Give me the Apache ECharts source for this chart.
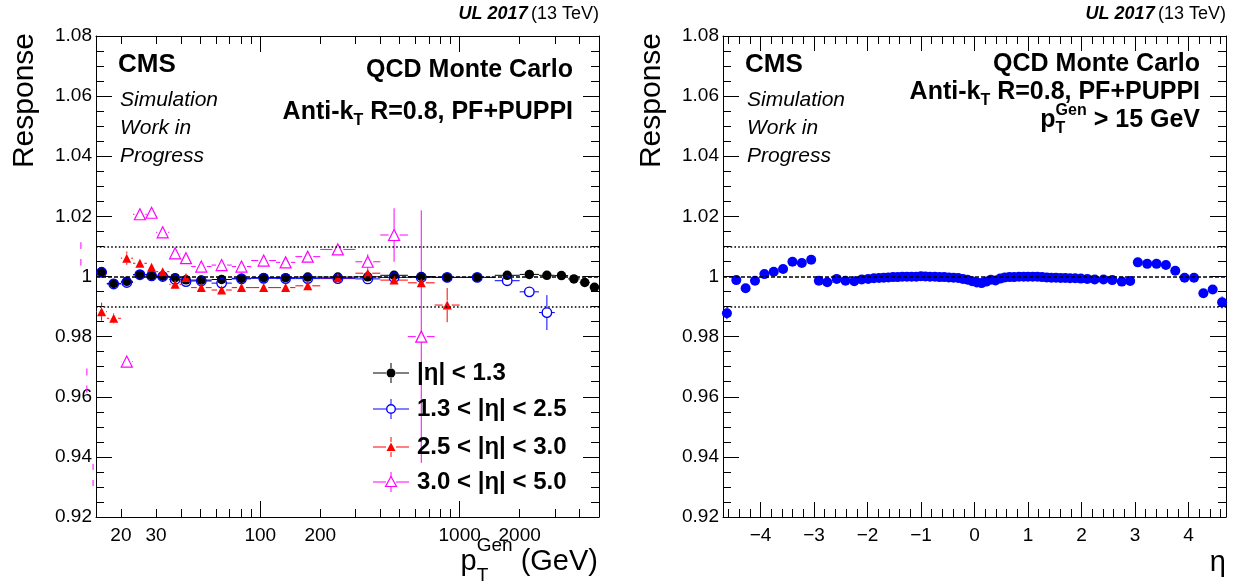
<!DOCTYPE html>
<html><head><meta charset="utf-8">
<script src="https://cdn.jsdelivr.net/npm/echarts@6/dist/echarts.min.js"></script>
<style>html,body{margin:0;padding:0;background:#fff}#c{width:1233px;height:588px}</style>
</head><body><div id="c"></div>
<script>
// ---------------- DATA ----------------
// Left panel: response vs pT(gen), pT bins
const ptEdges   = [15, 17, 20, 23, 27, 30, 35, 40, 45, 57, 72, 90, 120, 150, 200, 300, 400, 550, 750, 1000, 1500, 2000, 2500, 3000, 3500, 4000, 4500, 5000];
const ptCenters = [16, 18.4, 21.4, 24.9, 28.5, 32.4, 37.4, 42.4, 50.6, 64, 80.5, 104, 134, 173, 245, 346, 469, 642, 866, 1225, 1732, 2236, 2739, 3240, 3742, 4243, 4743];
const ptTickLabels = [20, 30, 100, 200, 1000, 2000];
const ptMajorTicks = [100, 1000];
const ptMinorTicks = [20, 30, 40, 50, 60, 70, 80, 90, 200, 300, 400, 500, 600, 700, 800, 900, 2000, 3000, 4000];

// |eta| < 1.3 (black), starts at bin 0
const respEtaA = [1.0015, 0.9977, 0.9984, 1.0006, 1.0003, 1.0001, 0.9996, 0.9989, 0.9988, 0.9990, 0.9994, 0.9996, 0.9996, 0.9998, 0.9998, 0.9999, 1.0004, 1.0000, 0.9997, 0.9997, 1.0004, 1.0007, 1.0004, 1.0003, 0.9992, 0.9980, 0.9964];
const errEtaA  = [0.0003, 0.0003, 0.0002, 0.0002, 0.0002, 0.0002, 0.0002, 0.0002, 0.0002, 0.0002, 0.0002, 0.0002, 0.0002, 0.0002, 0.0002, 0.0002, 0.0002, 0.0002, 0.0002, 0.0002, 0.0002, 0.0002, 0.0003, 0.0003, 0.0003, 0.0004, 0.0005];
// 1.3 < |eta| < 2.5 (blue), starts at bin 0
const respEtaB = [1.0014, 0.9975, 0.9980, 1.0006, 1.0002, 1.0000, 0.9990, 0.9983, 0.9985, 0.9978, 0.9992, 0.9994, 0.9993, 0.9993, 0.9993, 0.9992, 0.9997, 0.9997, 0.9997, 0.9997, 0.9986, 0.9949, 0.9880];
const errEtaB  = [0.0004, 0.0004, 0.0003, 0.0003, 0.0003, 0.0003, 0.0003, 0.0003, 0.0002, 0.0002, 0.0002, 0.0002, 0.0002, 0.0002, 0.0002, 0.0002, 0.0002, 0.0003, 0.0003, 0.0004, 0.0006, 0.0012, 0.0058];
// 2.5 < |eta| < 3.0 (red), starts at bin 0
const respEtaC = [0.9883, 0.9861, 1.0061, 1.0044, 1.0031, 1.0016, 0.9974, 0.9997, 0.9963, 0.9955, 0.9963, 0.9963, 0.9963, 0.9969, 0.9996, 1.0011, 0.9988, 0.9979, 0.9905];
const errEtaC  = [0.0030, 0.0017, 0.0022, 0.0012, 0.0010, 0.0008, 0.0008, 0.0006, 0.0005, 0.0005, 0.0005, 0.0005, 0.0005, 0.0005, 0.0006, 0.0010, 0.0012, 0.0015, 0.0057];
// 3.0 < |eta| < 5.0 (magenta), starts at bin 2
const firstBinEtaD = 2;
const respEtaD = [0.9717, 1.0207, 1.0212, 1.0147, 1.0077, 1.0061, 1.0033, 1.0038, 1.0033, 1.0053, 1.0047, 1.0066, 1.0090, 1.0049, 1.0138, 0.9800];
const errEtaD  = [0.0005, 0.0005, 0.0005, 0.0005, 0.0005, 0.0005, 0.0005, 0.0005, 0.0005, 0.0005, 0.0005, 0.0005, 0.0008, 0.0025, 0.0089, 0.0420];
// magenta points below the axis range (only their error bars show, left of the frame)
const lowPtEtaD   = [12.6, 13.5, 14.5];
const lowRespEtaD = [1.0075, 0.9654, 0.9340];
const lowErrEtaD  = [0.0039, 0.0040, 0.0037];

// Right panel: response vs eta
const etaEdges = [-4.716,-4.538,-4.363,-4.191,-4.013,-3.839,-3.664,-3.489,-3.314,-3.139,-2.964,-2.853,-2.65,-2.5,-2.322,-2.172,-2.043,-1.93,-1.83,-1.74,-1.653,-1.566,-1.479,-1.392,-1.305,-1.218,-1.131,-1.044,-0.957,-0.879,-0.783,-0.696,-0.609,-0.522,-0.435,-0.348,-0.261,-0.174,-0.087,0,0.087,0.174,0.261,0.348,0.435,0.522,0.609,0.696,0.783,0.879,0.957,1.044,1.131,1.218,1.305,1.392,1.479,1.566,1.653,1.74,1.83,1.93,2.043,2.172,2.322,2.5,2.65,2.853,2.964,3.139,3.314,3.489,3.664,3.839,4.013,4.191,4.363,4.538,4.716];
const etaCenters = [-4.627,-4.451,-4.277,-4.102,-3.926,-3.752,-3.577,-3.402,-3.227,-3.052,-2.909,-2.752,-2.575,-2.411,-2.247,-2.108,-1.987,-1.880,-1.785,-1.697,-1.610,-1.523,-1.436,-1.349,-1.262,-1.175,-1.088,-1.001,-0.918,-0.831,-0.740,-0.653,-0.566,-0.479,-0.392,-0.305,-0.218,-0.131,-0.044,
                    0.044,0.131,0.218,0.305,0.392,0.479,0.566,0.653,0.740,0.831,0.918,1.001,1.088,1.175,1.262,1.349,1.436,1.523,1.610,1.697,1.785,1.880,1.987,2.108,2.247,2.411,2.575,2.752,2.909,3.052,3.227,3.402,3.577,3.752,3.926,4.102,4.277,4.451,4.627];
const etaResp = [0.9878,0.9988,0.9961,0.9986,1.0008,1.0016,1.0025,1.0049,1.0045,1.0056,0.9986,0.9981,0.9992,0.9986,0.9984,0.9990,0.9992,0.9994,0.9995,0.9996,0.9997,0.9998,0.9998,0.9999,0.9999,0.9999,0.9999,1.0001,1.0000,0.9999,0.9999,0.9998,0.9998,0.9997,0.9996,0.9995,0.9992,0.9989,0.9984,
                 0.9980,0.9978,0.9983,0.9989,0.9987,0.9993,0.9997,0.9998,0.9998,0.9999,0.9999,0.9999,0.9999,0.9999,0.9998,0.9997,0.9996,0.9996,0.9995,0.9995,0.9994,0.9994,0.9993,0.9992,0.9990,0.9990,0.9988,0.9983,0.9985,1.0047,1.0042,1.0042,1.0038,1.0019,0.9996,0.9996,0.9944,0.9957,0.9914];
const etaErr = [0.0020,0.0006,0.0006,0.0005,0.0004,0.0004,0.0004,0.0004,0.0004,0.0004,0.0003,0.0003,0.0002,0.0002,0.0002,0.0002,0.0002,0.0002,0.0002,0.0002,0.0002,0.0002,0.0002,0.0002,0.0002,0.0002,0.0002,0.0002,0.0002,0.0002,0.0002,0.0002,0.0002,0.0002,0.0002,0.0002,0.0002,0.0002,0.0002,
                0.0002,0.0002,0.0002,0.0002,0.0002,0.0002,0.0002,0.0002,0.0002,0.0002,0.0002,0.0002,0.0002,0.0002,0.0002,0.0002,0.0002,0.0002,0.0002,0.0002,0.0002,0.0002,0.0002,0.0002,0.0002,0.0002,0.0002,0.0003,0.0003,0.0004,0.0004,0.0004,0.0004,0.0004,0.0004,0.0005,0.0006,0.0006,0.0020];
const etaTickLabels = [-4, -3, -2, -1, 0, 1, 2, 3, 4];
const respRefLines = [0.99, 1.0, 1.01];

// ---------------- RENDERING ----------------
const FONT = '"Liberation Sans", Arial, Helvetica, sans-serif';
const LG = v => Math.log10(v);
const PT_MIN = 15, PT_MAX = 5000, ETA_MIN = -4.7, ETA_MAX = 4.7;
const Y_MIN = 0.92, Y_MAX = 1.08;
const COL = {A: '#000000', B: '#0000ff', C: '#ff0000', D: '#ff00ff'};

const etaMinor = [];
for (let k = -23; k <= 23; k++) { if (k % 5 !== 0) etaMinor.push(k * 0.2); }

function errRender(color, gap, lw) {
  return function (params, api) {
    const x = api.value(0), y = api.value(1), xl = api.value(2), xh = api.value(3), e = api.value(4);
    const c = api.coord([x, y]);
    const pl = api.coord([xl, y]), ph = api.coord([xh, y]);
    const pu = api.coord([x, y + e]), pd = api.coord([x, y - e]);
    const st = {stroke: color, lineWidth: lw};
    const ch = [];
    if (c[0] - pl[0] > gap) ch.push({type: 'line', shape: {x1: pl[0], y1: c[1], x2: c[0] - gap, y2: c[1]}, style: st});
    if (ph[0] - c[0] > gap) ch.push({type: 'line', shape: {x1: c[0] + gap, y1: c[1], x2: ph[0], y2: c[1]}, style: st});
    if (c[1] - pu[1] > gap) ch.push({type: 'line', shape: {x1: c[0], y1: pu[1], x2: c[0], y2: c[1] - gap}, style: st});
    if (pd[1] - c[1] > gap) ch.push({type: 'line', shape: {x1: c[0], y1: c[1] + gap, x2: c[0], y2: pd[1]}, style: st});
    return {type: 'group', children: ch};
  };
}

function ptSeriesData(resp, err, first) {
  return resp.map((v, i) => {
    const b = i + first;
    return [LG(ptCenters[b]), v, LG(ptEdges[b]), LG(ptEdges[b + 1]), err[i]];
  });
}

const dataA = ptSeriesData(respEtaA, errEtaA, 0);
const dataB = ptSeriesData(respEtaB, errEtaB, 0);
const dataC = ptSeriesData(respEtaC, errEtaC, 0);
const dataD = ptSeriesData(respEtaD, errEtaD, firstBinEtaD);
const dataDlow = lowPtEtaD.map((p, i) => [LG(p), lowRespEtaD[i], LG(p), LG(p), lowErrEtaD[i]]);
const dataEta = etaCenters.map((c, i) => [c, etaResp[i], etaEdges[i], etaEdges[i + 1], etaErr[i]]);

function xAxisSet(grid, min, max, labels, labelFmt, major, minor, majLen, minLen) {
  const base = {
    gridIndex: grid, type: 'value', min: min, max: max, splitLine: {show: false},
    axisLine: {show: true, onZero: false, lineStyle: {color: '#000', width: 1}},
    axisPointer: {show: false}
  };
  return [
    Object.assign({}, base, {position: 'bottom',
      axisTick: {show: true, inside: true, length: minLen, customValues: minor, lineStyle: {color: '#000'}},
      axisLabel: {show: true, customValues: labels, formatter: labelFmt, color: '#000', fontSize: 19, fontFamily: FONT, margin: 9}}),
    Object.assign({}, base, {position: 'bottom', axisLine: {show: false},
      axisTick: {show: true, inside: true, length: majLen, customValues: major, lineStyle: {color: '#000'}},
      axisLabel: {show: false}}),
    Object.assign({}, base, {position: 'top',
      axisTick: {show: true, inside: true, length: minLen, customValues: minor, lineStyle: {color: '#000'}},
      axisLabel: {show: false}}),
    Object.assign({}, base, {position: 'top', axisLine: {show: false},
      axisTick: {show: true, inside: true, length: majLen, customValues: major, lineStyle: {color: '#000'}},
      axisLabel: {show: false}})
  ];
}

function yAxisSet(grid) {
  const base = {
    gridIndex: grid, type: 'value', min: Y_MIN, max: Y_MAX, interval: 0.02,
    splitLine: {show: false}, minorSplitLine: {show: false},
    axisLine: {show: true, onZero: false, lineStyle: {color: '#000', width: 1}},
    axisTick: {show: true, inside: true, length: 16, lineStyle: {color: '#000'}},
    minorTick: {show: true, splitNumber: 4, length: 8, lineStyle: {color: '#000'}}
  };
  return [
    Object.assign({}, base, {position: 'left',
      axisLabel: {show: true, color: '#000', fontSize: 19, fontFamily: FONT, margin: 4,
        formatter: v => { const s = Math.round(v * 100) / 100; return s === 1 ? '1' : s.toFixed(2); }}}),
    Object.assign({}, base, {position: 'right', axisLabel: {show: false}})
  ];
}

const ptLabelFmt = v => {
  for (const t of ptTickLabels) if (Math.abs(LG(t) - v) < 1e-6) return String(t);
  return '';
};
const etaLabelFmt = v => {
  const r = Math.round(v);
  return r < 0 ? '\u2212' + Math.abs(r) : String(r);
};

const xAxes = [].concat(
  xAxisSet(0, LG(PT_MIN), LG(PT_MAX), ptTickLabels.map(LG), ptLabelFmt, ptMajorTicks.map(LG), ptMinorTicks.map(LG), 16, 8),
  xAxisSet(1, ETA_MIN, ETA_MAX, etaTickLabels, etaLabelFmt, etaTickLabels, etaMinor, 15, 8)
);
const yAxes = [].concat(yAxisSet(0), yAxisSet(1));

function refLineSeries(xIdx, yIdx) {
  return {
    type: 'line', xAxisIndex: xIdx, yAxisIndex: yIdx, data: [], silent: true, z: 1,
    markLine: {
      silent: true, symbol: ['none', 'none'], label: {show: false}, animation: false,
      data: respRefLines.map(v => ({yAxis: v, lineStyle: {color: '#000', width: 1.6, type: v === 1 ? [4, 2] : [1.6, 2.2]}}))
    }
  };
}

function errSeries(xIdx, yIdx, data, color, gap) {
  return {type: 'custom', xAxisIndex: xIdx, yAxisIndex: yIdx, data: data, renderItem: errRender(color, gap, 1),
    silent: true, clip: false, z: 2, encode: {x: 0, y: 1}};
}
function markerSeries(xIdx, yIdx, data, symbol, size, fill, stroke, bw) {
  return {type: 'scatter', xAxisIndex: xIdx, yAxisIndex: yIdx, data: data.map(d => [d[0], d[1]]),
    symbol: symbol, symbolSize: size, silent: true, z: 3,
    itemStyle: {color: fill, borderColor: stroke, borderWidth: bw, opacity: 1}};
}

const series = [
  refLineSeries(0, 0),
  refLineSeries(4, 2),
  errSeries(0, 0, dataA, COL.A, 4.5), markerSeries(0, 0, dataA, 'circle', 9.5, COL.A, COL.A, 0),
  errSeries(0, 0, dataB, COL.B, 5), markerSeries(0, 0, dataB, 'circle', 9.5, 'rgba(0,0,0,0)', COL.B, 1.4),
  errSeries(0, 0, dataC, COL.C, 4.5), markerSeries(0, 0, dataC, 'triangle', 9, COL.C, COL.C, 0),
  errSeries(0, 0, dataD, COL.D, 5.5), markerSeries(0, 0, dataD, 'triangle', 11, 'rgba(0,0,0,0)', COL.D, 1.2),
  errSeries(0, 0, dataDlow, COL.D, 5),
  errSeries(4, 2, dataEta, COL.B, 4.5), markerSeries(4, 2, dataEta, 'circle', 10, COL.B, COL.B, 0)
];

// ------------- text helpers -------------
const mctx = document.createElement('canvas').getContext('2d');
function tw(t, size, weight, style) {
  mctx.font = (style || 'normal') + ' ' + (weight || 'normal') + ' ' + size + 'px ' + FONT;
  return mctx.measureText(t).width;
}
function txt(t, x, y, size, opts) {
  opts = opts || {};
  return {type: 'text', x: x, y: y, silent: true, z: 100,
    style: {text: t, fill: '#000', fontSize: size, fontFamily: FONT, fontWeight: opts.weight || 'normal',
      fontStyle: opts.style || 'normal', align: opts.align || 'left', verticalAlign: opts.va || 'middle'},
    rotation: opts.rotation || 0};
}
// pieces: {t,size,weight,style,dy,noAdv}
function composite(pieces, rightX, midY) {
  let total = 0;
  pieces.forEach(p => { p.w = tw(p.t, p.size, p.weight, p.style); if (!p.noAdv) total += p.w; });
  let x = rightX - total;
  const els = [];
  pieces.forEach(p => {
    els.push(txt(p.t, x, midY + (p.dy || 0), p.size, {weight: p.weight, style: p.style}));
    if (!p.noAdv) x += p.w;
  });
  return els;
}

const graphics = [];
function panelTexts(frameL, frameR, cfg) {
  graphics.push({type: 'text', x: frameR, y: 14, silent: true, z: 100, style: {
    text: '{a|UL 2017} {b|(13 TeV)}', align: 'right', verticalAlign: 'middle',
    rich: {a: {fontSize: 18, fontWeight: 'bold', fontStyle: 'italic', fontFamily: FONT, fill: '#000'},
           b: {fontSize: 18, fontFamily: FONT, fill: '#000'}}}});
  graphics.push(txt('Response', frameL - 71, 33, 30, {align: 'right', rotation: Math.PI / 2}));
  graphics.push(txt('CMS', frameL + 22, 65, 26, {weight: 'bold'}));
  graphics.push(txt('Simulation', frameL + 24, 100, 21, {style: 'italic'}));
  graphics.push(txt('Work in', frameL + 24, 128, 21, {style: 'italic'}));
  graphics.push(txt('Progress', frameL + 24, 156, 21, {style: 'italic'}));
  graphics.push(txt('QCD Monte Carlo', frameR - 26, cfg.qcdY, 25, {weight: 'bold', align: 'right'}));
  composite([
    {t: 'Anti-k', size: 25, weight: 'bold'},
    {t: 'T', size: 16, weight: 'bold', dy: 9},
    {t: ' R=0.8, PF+PUPPI', size: 25, weight: 'bold'}
  ], frameR - 26, cfg.akY).forEach(e => graphics.push(e));
}
panelTexts(96, 599, {qcdY: 70, akY: 112});
panelTexts(723, 1226, {qcdY: 64, akY: 92});
composite([
  {t: 'p', size: 25, weight: 'bold'},
  {t: 'T', size: 16, weight: 'bold', dy: 9, noAdv: true},
  {t: 'Gen', size: 16, weight: 'bold', dy: -9},
  {t: ' > 15 GeV', size: 25, weight: 'bold'}
], 1200, 120).forEach(e => graphics.push(e));

// axis titles
composite([
  {t: 'p', size: 29},
  {t: 'T', size: 19, dy: 14, noAdv: true},
  {t: 'Gen', size: 19, dy: -16},
  {t: ' (GeV)', size: 29}
], 598, 562).forEach(e => graphics.push(e));
graphics.push(txt('\u03b7', 1226, 563, 29, {align: 'right'}));

// legend
const legRows = [
  {label: '|\u03b7| < 1.3', color: COL.A, m: 'fcircle'},
  {label: '1.3 < |\u03b7| < 2.5', color: COL.B, m: 'ocircle'},
  {label: '2.5 < |\u03b7| < 3.0', color: COL.C, m: 'ftri'},
  {label: '3.0 < |\u03b7| < 5.0', color: COL.D, m: 'otri'}
];
const legY = [373, 409, 447, 482];
legRows.forEach((r, i) => {
  const y = legY[i], cx = 391, g = 5;
  const st = {stroke: r.color, lineWidth: 1};
  graphics.push({type: 'line', silent: true, z: 90, shape: {x1: 373, y1: y, x2: cx - g, y2: y}, style: st});
  graphics.push({type: 'line', silent: true, z: 90, shape: {x1: cx + g, y1: y, x2: 409, y2: y}, style: st});
  graphics.push({type: 'line', silent: true, z: 90, shape: {x1: cx, y1: y - 10, x2: cx, y2: y - g}, style: st});
  graphics.push({type: 'line', silent: true, z: 90, shape: {x1: cx, y1: y + g, x2: cx, y2: y + 10}, style: st});
  if (r.m === 'fcircle') graphics.push({type: 'circle', silent: true, z: 91, shape: {cx: cx, cy: y, r: 4.5}, style: {fill: r.color}});
  if (r.m === 'ocircle') graphics.push({type: 'circle', silent: true, z: 91, shape: {cx: cx, cy: y, r: 4.3}, style: {fill: 'none', stroke: r.color, lineWidth: 1.4}});
  if (r.m === 'ftri') graphics.push({type: 'polygon', silent: true, z: 91, shape: {points: [[cx, y - 4.5], [cx + 4.5, y + 4], [cx - 4.5, y + 4]]}, style: {fill: r.color}});
  if (r.m === 'otri') graphics.push({type: 'polygon', silent: true, z: 91, shape: {points: [[cx, y - 5.5], [cx + 5.5, y + 4.5], [cx - 5.5, y + 4.5]]}, style: {fill: 'none', stroke: r.color, lineWidth: 1.2}});
  graphics.push(txt(r.label, 417, y, 24, {weight: 'bold'}));
});

const chart = echarts.init(document.getElementById('c'), null, {renderer: 'canvas'});
chart.setOption({
  animation: false,
  backgroundColor: '#fff',
  grid: [
    {left: 96, top: 36, width: 503, height: 481, containLabel: false},
    {left: 723, top: 36, width: 503, height: 481, containLabel: false}
  ],
  xAxis: xAxes,
  yAxis: yAxes,
  series: series,
  graphic: {elements: graphics}
});
</script></body></html>
